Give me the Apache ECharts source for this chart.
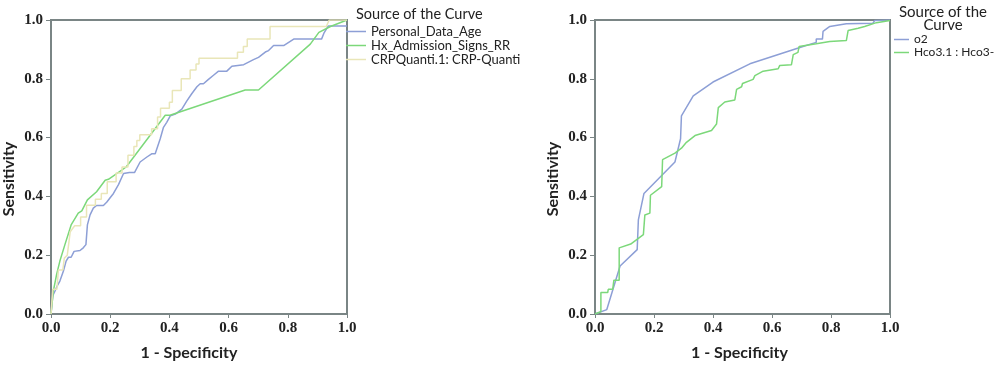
<!DOCTYPE html>
<html>
<head>
<meta charset="utf-8">
<script src="https://cdn.jsdelivr.net/npm/echarts@6/dist/echarts.min.js"></script>
<style>html,body{margin:0;padding:0;background:#fff}#c{width:1000px;height:366px}</style>
</head>
<body>
<div id="c"></div>
<script>
const xTicks = [0, 0.2, 0.4, 0.6, 0.8, 1.0];
const leftNames = ['Personal_Data_Age', 'Hx_Admission_Signs_RR', 'CRPQuanti.1: CRP-Quanti'];
const rightNames = ['o2', 'Hco3.1 : Hco3-'];
const legendTitleLeft = 'Source of the Curve';
const legendTitleRight = 'Source of the\nCurve';
const xTitle = '1 - Specificity';
const yTitle = 'Sensitivity';

const ageCurve = [[0,0],[0.006,0.062],[0.014,0.079],[0.021,0.096],[0.03,0.112],[0.042,0.146],[0.051,0.18],[0.059,0.193],[0.068,0.193],[0.078,0.213],[0.098,0.216],[0.109,0.225],[0.118,0.236],[0.123,0.303],[0.132,0.337],[0.143,0.36],[0.154,0.369],[0.177,0.369],[0.188,0.38],[0.211,0.41],[0.228,0.44],[0.245,0.478],[0.265,0.481],[0.282,0.481],[0.301,0.517],[0.324,0.534],[0.34,0.545],[0.352,0.545],[0.369,0.596],[0.38,0.635],[0.391,0.652],[0.403,0.674],[0.42,0.68],[0.442,0.697],[0.459,0.725],[0.476,0.75],[0.493,0.773],[0.504,0.783],[0.515,0.783],[0.532,0.798],[0.549,0.812],[0.566,0.826],[0.594,0.826],[0.611,0.843],[0.617,0.848],[0.651,0.848],[0.684,0.865],[0.701,0.873],[0.724,0.891],[0.735,0.896],[0.752,0.913],[0.786,0.913],[0.82,0.935],[0.914,0.935],[0.922,0.955],[0.937,0.98],[1.0,0.98]];
const rrCurve = [[0,0],[0.008,0.079],[0.019,0.135],[0.03,0.18],[0.047,0.236],[0.068,0.303],[0.092,0.343],[0.104,0.351],[0.123,0.388],[0.154,0.416],[0.183,0.455],[0.194,0.458],[0.254,0.5],[0.386,0.676],[0.402,0.676],[0.656,0.762],[0.701,0.762],[0.876,0.918],[0.905,0.958],[0.944,0.978],[1.0,1.0]];
const crpCurve = [[0,0],[0.006,0.084],[0.02,0.084],[0.025,0.15],[0.04,0.15],[0.045,0.19],[0.055,0.2],[0.065,0.28],[0.08,0.3],[0.1,0.3],[0.1,0.33],[0.12,0.33],[0.12,0.37],[0.15,0.37],[0.15,0.39],[0.17,0.39],[0.17,0.41],[0.19,0.41],[0.19,0.45],[0.22,0.45],[0.22,0.48],[0.24,0.48],[0.24,0.5],[0.26,0.5],[0.26,0.54],[0.28,0.54],[0.28,0.57],[0.29,0.57],[0.29,0.59],[0.30,0.59],[0.30,0.61],[0.34,0.61],[0.34,0.63],[0.36,0.63],[0.36,0.67],[0.37,0.67],[0.37,0.70],[0.40,0.70],[0.40,0.72],[0.41,0.72],[0.41,0.76],[0.44,0.76],[0.44,0.80],[0.47,0.80],[0.47,0.83],[0.49,0.83],[0.49,0.85],[0.50,0.85],[0.50,0.87],[0.63,0.87],[0.63,0.89],[0.65,0.89],[0.65,0.91],[0.663,0.91],[0.663,0.935],[0.74,0.935],[0.74,0.978],[0.93,0.978],[0.94,1.0],[1.0,1.0]];
const o2Curve = [[0,0],[0.04,0.015],[0.085,0.163],[0.143,0.219],[0.147,0.32],[0.166,0.41],[0.271,0.517],[0.29,0.596],[0.293,0.674],[0.333,0.742],[0.4,0.789],[0.525,0.851],[0.705,0.91],[0.75,0.924],[0.75,0.935],[0.771,0.935],[0.773,0.961],[0.796,0.978],[0.852,0.987],[0.942,0.989],[0.948,0.998],[1.0,1.0]];
const hco3Curve = [[0,0],[0.02,0.008],[0.02,0.073],[0.043,0.073],[0.045,0.084],[0.06,0.084],[0.064,0.115],[0.082,0.115],[0.082,0.225],[0.121,0.238],[0.164,0.27],[0.169,0.337],[0.186,0.343],[0.188,0.404],[0.226,0.433],[0.229,0.525],[0.271,0.547],[0.293,0.564],[0.31,0.584],[0.339,0.607],[0.395,0.624],[0.412,0.646],[0.418,0.702],[0.44,0.721],[0.474,0.728],[0.48,0.764],[0.497,0.773],[0.5,0.784],[0.536,0.798],[0.542,0.811],[0.57,0.826],[0.621,0.834],[0.626,0.845],[0.666,0.848],[0.672,0.882],[0.688,0.89],[0.692,0.91],[0.75,0.919],[0.796,0.927],[0.852,0.93],[0.858,0.964],[0.892,0.972],[0.914,0.978],[0.954,0.991],[1.0,0.998]];

const BLUE = '#8d9fd6', GREEN = '#7cd87a', YELLOW = '#e9e6b8';
const AXIS = '#7a8585';
const serif = 'Liberation Serif';
const sans = 'Lato';

function xAxisCfg(gi, shift) {
  return {
    type: 'value', gridIndex: gi, min: 0, max: 1, interval: 0.2,
    name: xTitle, nameLocation: 'middle', nameGap: 31,
    nameTextStyle: {fontFamily: sans, fontWeight: 'bold', fontSize: 16, color: '#222', padding: [0, shift, 0, 0]},
    axisLine: {show: true, lineStyle: {color: AXIS, width: 2}},
    axisTick: {show: true, length: 4, lineStyle: {color: AXIS, width: 1}},
    axisLabel: {fontFamily: serif, fontWeight: 'bold', fontSize: 15, color: '#222', margin: 7, formatter: v => v.toFixed(1)},
    splitLine: {show: false}
  };
}
function yAxisCfg(gi) {
  return {
    type: 'value', gridIndex: gi, min: 0, max: 1, interval: 0.2,
    name: yTitle, nameLocation: 'middle', nameGap: 34,
    nameTextStyle: {fontFamily: sans, fontWeight: 'bold', fontSize: 16, color: '#222', padding: [0, 24, 0, 0]},
    axisLine: {show: true, lineStyle: {color: AXIS, width: 2}},
    axisTick: {show: true, length: 5, lineStyle: {color: AXIS, width: 1}},
    axisLabel: {fontFamily: serif, fontWeight: 'bold', fontSize: 15, color: '#222', margin: 8, formatter: v => v.toFixed(1)},
    splitLine: {show: false}
  };
}
function lineSeries(name, data, color, xi) {
  return {name, type: 'line', xAxisIndex: xi, yAxisIndex: xi, data, showSymbol: false, symbol: 'none',
    lineStyle: {color, width: 1.5}, itemStyle: {color}, animation: false};
}

const chart = echarts.init(document.getElementById('c'), null, {renderer: 'canvas'});
chart.setOption({
  animation: false,
  title: [
    {text: legendTitleLeft, left: 351, top: 2, textStyle: {fontFamily: sans, fontWeight: 'normal', fontSize: 14.5, color: '#222'}},
    {text: legendTitleRight, left: 938, top: 1, textAlign: 'center', textStyle: {fontFamily: sans, fontWeight: 'normal', fontSize: 15, lineHeight: 13, color: '#222', align: 'center'}}
  ],
  grid: [
    {left: 51, top: 20, width: 296, height: 297, show: true, borderColor: AXIS, borderWidth: 2},
    {left: 595, top: 20, width: 295, height: 297, show: true, borderColor: AXIS, borderWidth: 2}
  ],
  legend: [
    {data: leftNames, left: 341, top: 20, orient: 'vertical', icon: 'rect', itemWidth: 20, itemHeight: 1.5, itemGap: 1,
      textStyle: {fontFamily: sans, fontSize: 13, color: '#222', lineHeight: 13}},
    {data: rightNames, left: 889, top: 28, orient: 'vertical', icon: 'rect', itemWidth: 15, itemHeight: 1.5, itemGap: 0,
      textStyle: {fontFamily: sans, fontSize: 12, color: '#222', lineHeight: 13}}
  ],
  xAxis: [xAxisCfg(0, 20), xAxisCfg(1, 6)],
  yAxis: [yAxisCfg(0), yAxisCfg(1)],
  series: [
    lineSeries(leftNames[0], ageCurve, BLUE, 0),
    lineSeries(leftNames[1], rrCurve, GREEN, 0),
    lineSeries(leftNames[2], crpCurve, YELLOW, 0),
    lineSeries(rightNames[0], o2Curve, BLUE, 1),
    lineSeries(rightNames[1], hco3Curve, GREEN, 1)
  ]
});
</script>
</body>
</html>
